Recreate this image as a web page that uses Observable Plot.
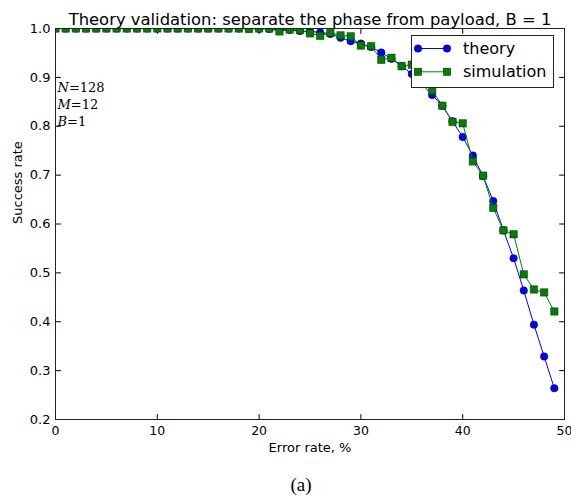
<!DOCTYPE html>
<html><head><meta charset="utf-8">
<script src="https://cdn.jsdelivr.net/npm/d3@7"></script>
<script src="https://cdn.jsdelivr.net/npm/@observablehq/plot@0.6"></script>
<style>
body{margin:0;background:#fff;}
#chart{width:571px;height:503px;}
</style></head><body><div id="chart"></div>
<script>
const errorRate = [0,1,2,3,4,5,6,7,8,9,10,11,12,13,14,15,16,17,18,19,20,21,22,23,24,25,26,27,28,29,30,31,32,33,34,35,36,37,38,39,40,41,42,43,44,45,46,47,48,49];
const theory = [1,1,1,1,1,1,1,1,1,1,1,1,1,1,1,1,1,1,1,1,
  0.9995,0.999,0.998,0.997,0.995,0.994,0.992,0.989,0.981,0.974,
  0.969,0.962,0.951,0.938,0.923,0.907,0.886,0.864,0.842,0.810,
  0.778,0.740,0.698,0.647,0.587,0.530,0.464,0.394,0.329,0.264];
const simulation = [1,1,1,1,1,1,1,1,1,1,1,1,1,1,1,1,1,1,1,0.999,
  1,1,0.994,0.998,0.997,0.990,0.985,0.991,0.986,0.984,
  0.965,0.964,0.936,0.940,0.923,0.926,0.893,0.873,0.842,0.809,
  0.806,0.728,0.699,0.633,0.587,0.579,0.497,0.466,0.460,0.421];
const seriesNames = ["theory","simulation"];
const xTicks = [0,10,20,30,40,50];
const yTicks = [0.2,0.3,0.4,0.5,0.6,0.7,0.8,0.9,1.0];
const titleText = "Theory validation: separate the phase from payload, B = 1";
const xLabel = "Error rate, %";
const yLabel = "Success rate";
const captionText = "(a)";
const params = [["N","128"],["M","12"],["B","1"]];

const theoryRows = errorRate.map((x,i)=>({x, y: theory[i]}));
const simRows = errorRate.map((x,i)=>({x, y: simulation[i]}));
const colors = {theory:"#0000ff", simulation:"#008000"};

const tickLen = 5;
const shapeUp = {draw(c, l){ c.moveTo(0,0); c.lineTo(0,-l); }};
const shapeDown = {draw(c, l){ c.moveTo(0,0); c.lineTo(0,l); }};
const shapeRight = {draw(c, l){ c.moveTo(0,0); c.lineTo(l,0); }};
const shapeLeft = {draw(c, l){ c.moveTo(0,0); c.lineTo(-l,0); }};

const plot = Plot.plot({
  width: 571, height: 503,
  marginLeft: 55, marginRight: 7, marginTop: 28, marginBottom: 84,
  style: {fontFamily: "DejaVu Sans", fontSize: "13px", background: "white", color: "#000"},
  x: {domain: [0,50]},
  y: {domain: [0.2,1.0]},
  marks: [
    Plot.axisX({anchor:"bottom", ticks:xTicks, tickSize:0, tickPadding:7, label:null, fontSize:12.5}),
    Plot.axisY({anchor:"left", ticks:yTicks, tickSize:0, tickPadding:5, tickFormat:d3.format(".1f"), label:null, fontSize:13}),
    Plot.vector(xTicks, {x:d=>d, frameAnchor:"bottom", anchor:"start", length:tickLen, shape:shapeUp, stroke:"#000", strokeWidth:1}),
    Plot.vector(xTicks, {x:d=>d, frameAnchor:"top", anchor:"start", length:tickLen, shape:shapeDown, stroke:"#000", strokeWidth:1}),
    Plot.vector(yTicks, {y:d=>d, frameAnchor:"left", anchor:"start", length:tickLen, shape:shapeRight, stroke:"#000", strokeWidth:1}),
    Plot.vector(yTicks, {y:d=>d, frameAnchor:"right", anchor:"start", length:tickLen, shape:shapeLeft, stroke:"#000", strokeWidth:1}),
    Plot.line(theoryRows, {x:"x", y:"y", stroke:colors.theory, strokeWidth:1, clip:true}),
    Plot.dot(theoryRows, {x:"x", y:"y", r:3.8, fill:colors.theory, stroke:"#000", strokeWidth:0.4, clip:true}),
    Plot.line(simRows, {x:"x", y:"y", stroke:colors.simulation, strokeWidth:1, clip:true}),
    Plot.dot(simRows, {x:"x", y:"y", symbol:"square", r:4.2, fill:colors.simulation, stroke:"#000", strokeWidth:0.4, clip:true}),
    Plot.frame({stroke:"#222"}),
    Plot.text([titleText], {frameAnchor:"top", dy:-15, fontSize:16.4}),
    Plot.text([xLabel], {frameAnchor:"bottom", dy:32, fontSize:13}),
    Plot.text([yLabel], {frameAnchor:"left", dx:-38, rotate:-90, fontSize:13}),
    Plot.text([captionText], {frameAnchor:"bottom", dx:-9, dy:71, fontFamily:"Liberation Serif", fontSize:19})
  ]
});
document.getElementById("chart").appendChild(plot);

const svg = d3.select(plot);
// parameter annotation
const ann = svg.append("g").attr("font-family","DejaVu Serif").attr("font-size",13).attr("text-anchor","start");
params.forEach((p,i)=>{
  const t = ann.append("text").attr("x",57.5).attr("y",91.5 + i*17.3).attr("text-anchor","start");
  t.append("tspan").attr("font-style","italic").text(p[0]);
  t.append("tspan").text("=" + p[1]);
});
// legend
const lg = svg.append("g").attr("text-anchor","start");
lg.append("rect").attr("x",411.5).attr("y",35.5).attr("width",142).attr("height",52)
  .attr("fill","#fff").attr("stroke","#222").attr("stroke-width",1);
seriesNames.forEach((s,i)=>{
  const cy = 48.5 + i*23.3;
  lg.append("line").attr("x1",418).attr("x2",447).attr("y1",cy).attr("y2",cy)
    .attr("stroke",colors[s]).attr("stroke-width",1);
  [418,447].forEach(cx=>{
    if (s === "theory") {
      lg.append("circle").attr("cx",cx).attr("cy",cy).attr("r",3.8)
        .attr("fill",colors[s]).attr("stroke","#000").attr("stroke-width",0.4);
    } else {
      lg.append("rect").attr("x",cx-3.7).attr("y",cy-3.7).attr("width",7.4).attr("height",7.4)
        .attr("fill",colors[s]).attr("stroke","#000").attr("stroke-width",0.4);
    }
  });
  lg.append("text").attr("x",463).attr("y",cy).attr("dy","0.35em").attr("text-anchor","start")
    .attr("font-family","DejaVu Sans").attr("font-size",16).text(s);
});
</script></body></html>
